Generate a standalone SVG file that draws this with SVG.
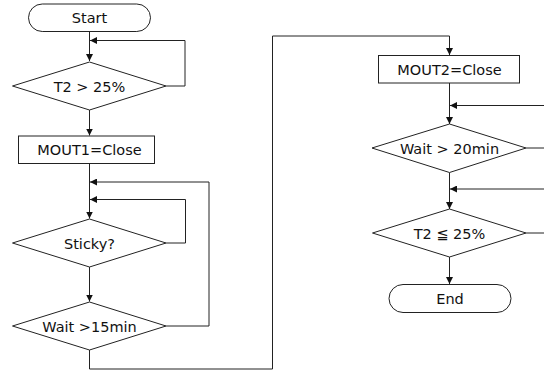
<svg xmlns="http://www.w3.org/2000/svg" width="544" height="373" viewBox="0 0 544 373">
<defs>
<marker id="ah" viewBox="0 0 10 10" refX="10" refY="5" markerWidth="7" markerHeight="7" markerUnits="userSpaceOnUse" orient="auto">
<path d="M0,0 L10,5 L0,10 z" fill="#111"/>
</marker>
</defs>
<style>
.s{fill:#fff;stroke:#222;stroke-width:1}
.c{fill:none;stroke:#222;stroke-width:1}
.t{font-family:"DejaVu Sans",Verdana,sans-serif;font-size:14.5px;fill:#111;text-anchor:middle}
</style>
<rect width="544" height="373" fill="#fff"/>
<g id="connectors">
<path class="c" d="M89.5,31.5 V61" marker-end="url(#ah)"/>
<path class="c" d="M166,86 H185 V40.5 H90" marker-end="url(#ah)"/>
<path class="c" d="M89.5,110 V135.5" marker-end="url(#ah)"/>
<path class="c" d="M89.5,163.5 V218.5" marker-end="url(#ah)"/>
<path class="c" d="M166,326 H209 V182 H90" marker-end="url(#ah)"/>
<path class="c" d="M166,243 H185.5 V199.5 H90" marker-end="url(#ah)"/>
<path class="c" d="M89.5,267 V301.5" marker-end="url(#ah)"/>
<path class="c" d="M89.5,350 V369 H272.5 V36 H449.5 V55" marker-end="url(#ah)"/>
<path class="c" d="M449.5,83 V124" marker-end="url(#ah)"/>
<path class="c" d="M544,105.5 H450" marker-end="url(#ah)"/>
<path class="c" d="M526,148 H544"/>
<path class="c" d="M449.5,172.5 V209" marker-end="url(#ah)"/>
<path class="c" d="M544,189 H450" marker-end="url(#ah)"/>
<path class="c" d="M526,233 H544"/>
<path class="c" d="M449.5,257 V284" marker-end="url(#ah)"/>
</g>
<g id="start">
<rect class="s" x="28.5" y="4" width="122" height="27.5" rx="13.75"/>
<text class="t" x="89.5" y="23">Start</text>
</g>
<g id="t2gt25">
<polygon class="s" points="89.5,62 166,86 89.5,110 12.5,86"/>
<text class="t" x="89.5" y="91.5">T2 &gt; 25%</text>
</g>
<g id="mout1">
<rect class="s" x="18.5" y="136" width="136" height="27.5"/>
<text class="t" x="89.5" y="155">MOUT1=Close</text>
</g>
<g id="sticky">
<polygon class="s" points="89.5,219 166,243 89.5,267 12.5,243"/>
<text class="t" x="89.5" y="248.5">Sticky?</text>
</g>
<g id="wait15">
<polygon class="s" points="89.5,302 166,326 89.5,350 12.5,326"/>
<text class="t" x="89.5" y="331.5">Wait &gt;15min</text>
</g>
<g id="mout2">
<rect class="s" x="378.5" y="55.5" width="141" height="27.5"/>
<text class="t" x="449.5" y="74.5">MOUT2=Close</text>
</g>
<g id="wait20">
<polygon class="s" points="449.5,124 526,148 449.5,172.5 372,148"/>
<text class="t" x="449.5" y="153.5">Wait &gt; 20min</text>
</g>
<g id="t2le25">
<polygon class="s" points="449.5,209 526,233 449.5,257 372.5,233"/>
<text class="t" x="449.5" y="238.5">T2 ≦ 25%</text>
</g>
<g id="end">
<rect class="s" x="389" y="284.5" width="122" height="28" rx="14"/>
<text class="t" x="450" y="304">End</text>
</g>
</svg>
